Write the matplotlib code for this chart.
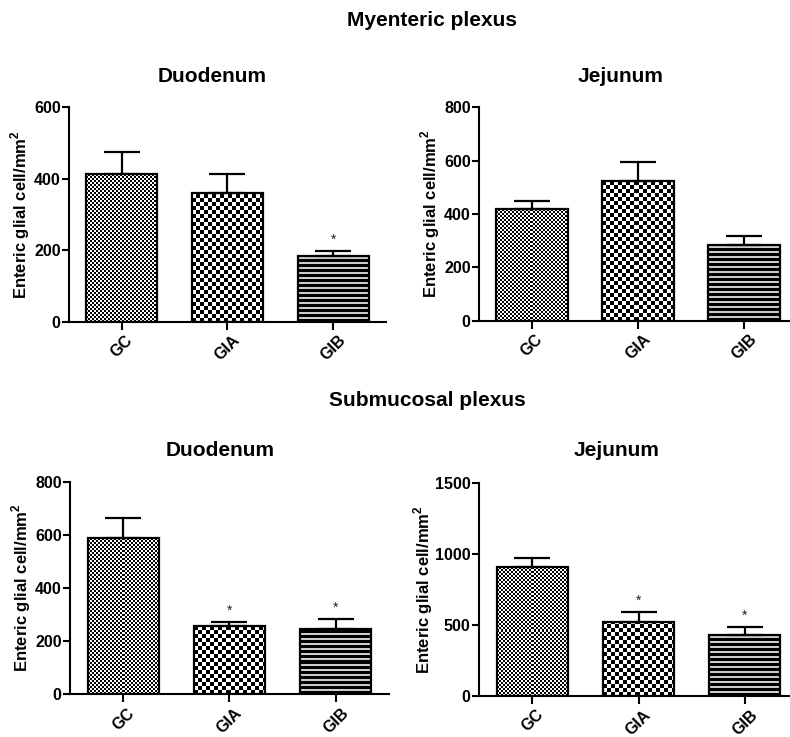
import numpy as np
import matplotlib
matplotlib.use('Agg')
import matplotlib.pyplot as plt

# data (mean and upper SEM)
groups = ['GC', 'GIA', 'GIB']

mye_duo_mean = [413, 360, 184]
mye_duo_sem = [61, 52, 13]
mye_duo_star = [False, False, True]

mye_jej_mean = [419, 524, 284]
mye_jej_sem = [31, 72, 35]
mye_jej_star = [False, False, False]

sub_duo_mean = [589, 258, 246]
sub_duo_sem = [75, 14, 37]
sub_duo_star = [False, True, True]

sub_jej_mean = [909, 518, 427]
sub_jej_sem = [59, 73, 56]
sub_jej_star = [False, True, True]

plt.rcParams['font.family'] = ['Liberation Sans', 'DejaVu Sans']
plt.rcParams['font.weight'] = 'bold'
plt.rcParams['axes.labelweight'] = 'bold'
plt.rcParams['mathtext.fontset'] = 'custom'
plt.rcParams['mathtext.rm'] = 'Liberation Sans:bold'
plt.rcParams['mathtext.bf'] = 'Liberation Sans:bold'

W, H = 790, 737
fig = plt.figure(figsize=(W / 100, H / 100), dpi=100)


def add_axes_px(x0, x1, ytop, ybot):
    # pixel box (from top-left) -> figure fraction
    return fig.add_axes([x0 / W, 1 - ybot / H, (x1 - x0) / W, (ybot - ytop) / H])


def texture(kind, h, w):
    yy, xx = np.indices((h, w))
    if kind == 0:
        return ((yy // 2 + xx // 2) % 2).astype(float)
    if kind == 1:
        return ((yy // 4 + xx // 4) % 2).astype(float)
    return np.where(yy % 5 < 3, 0.0, 0.8)


def panel(ax, means, sems, stars, ymax, ystep, label_px=37):
    x = np.arange(len(groups))
    ax.set_xlim(-0.5, 2.5)
    ax.set_ylim(0, ymax)
    bars = ax.bar(x, means, width=0.67, facecolor='none', edgecolor='black',
                  linewidth=1.6, zorder=3)
    for i, b in enumerate(bars):
        x0, y0 = b.get_x(), b.get_y()
        x1, y1 = x0 + b.get_width(), y0 + b.get_height()
        (px0, py0), (px1, py1) = ax.transData.transform([(x0, y0), (x1, y1)])
        tex = texture(i, max(int(round(py1 - py0)), 1), max(int(round(px1 - px0)), 1))
        im = ax.imshow(tex, cmap='gray', vmin=0, vmax=1, extent=(x0, x1, y0, y1),
                       aspect='auto', interpolation='nearest', origin='lower', zorder=2)
        im.set_clip_path(b)
    ax.errorbar(x, means, yerr=[np.zeros(len(sems)), sems], fmt='none', ecolor='black',
                elinewidth=1.6, capsize=13, capthick=1.6, zorder=2.5)
    for xi, m, s, st in zip(x, means, sems, stars):
        if st:
            ax.annotate('*', (xi, m + s), xytext=(0, 3), textcoords='offset points',
                        ha='center', va='bottom', fontsize=10, fontweight='normal',
                        color='#222222')
    ax.set_xlim(-0.5, 2.5)
    ax.set_ylim(0, ymax)
    ax.set_yticks(np.arange(0, ymax + 1, ystep))
    ax.set_xticks(x)
    ax.set_xticklabels(groups, rotation=45, fontsize=11.5)
    ax.tick_params(axis='y', labelsize=11.5, length=5, width=1.5, pad=1)
    ax.tick_params(axis='x', length=6, width=1.5, pad=2)
    for s in ['top', 'right']:
        ax.spines[s].set_visible(False)
    for s in ['left', 'bottom']:
        ax.spines[s].set_linewidth(1.5)
    ax.set_ylabel(r'Enteric glial cell/mm$^{\mathbf{2}}$', fontsize=12)
    ax.yaxis.set_label_coords(-label_px / (ax.get_position().width * W), 0.5)


ax1 = add_axes_px(69, 386, 107.3, 321.7)
panel(ax1, mye_duo_mean, mye_duo_sem, mye_duo_star, 600, 200)
ax2 = add_axes_px(479, 797, 107.3, 320.7)
panel(ax2, mye_jej_mean, mye_jej_sem, mye_jej_star, 800, 200)
ax3 = add_axes_px(70, 389, 481.7, 694.3)
panel(ax3, sub_duo_mean, sub_duo_sem, sub_duo_star, 800, 200)
ax4 = add_axes_px(479, 798, 482.7, 696)
panel(ax4, sub_jej_mean, sub_jej_sem, sub_jej_star, 1500, 500, label_px=44)

# titles, placed in pixels
fig.text(432 / W, 1 - 21 / H, 'Myenteric plexus', ha='center', va='center', fontsize=15)
fig.text(212 / W, 1 - 77 / H, 'Duodenum', ha='center', va='center', fontsize=15)
fig.text(621 / W, 1 - 77 / H, 'Jejunum', ha='center', va='center', fontsize=15)
fig.text(427 / W, 1 - 401 / H, 'Submucosal plexus', ha='center', va='center', fontsize=15)
fig.text(220 / W, 1 - 451 / H, 'Duodenum', ha='center', va='center', fontsize=15)
fig.text(617 / W, 1 - 451 / H, 'Jejunum', ha='center', va='center', fontsize=15)

fig.savefig('out.png', dpi=100)
